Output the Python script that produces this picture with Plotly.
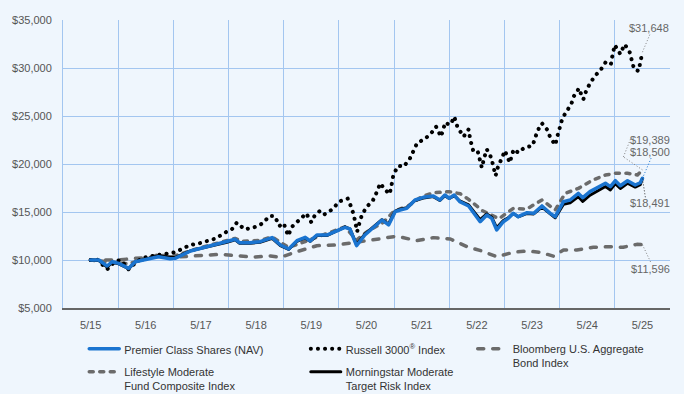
import plotly.graph_objects as go

# ---------------- data (years since 5/31/2015, growth of $10,000) ----------------
year_labels = ["5/15", "5/16", "5/17", "5/18", "5/19", "5/20", "5/21", "5/22", "5/23", "5/24", "5/25"]

premier_t = [0, 0.15, 0.30, 0.39, 0.51, 0.69, 0.81, 1.02, 1.23, 1.44, 1.53, 1.81, 2.23, 2.47, 2.62, 2.70, 2.89,
             3.07, 3.29, 3.44, 3.59, 3.74, 3.89, 3.98, 4.10, 4.28, 4.49, 4.61, 4.70, 4.82, 4.97, 5.19, 5.28, 5.40,
             5.52, 5.61, 5.73, 5.88, 6.03, 6.21, 6.33, 6.42, 6.50, 6.59, 6.69, 6.85, 6.97, 7.06, 7.18, 7.27, 7.36,
             7.48, 7.57, 7.66, 7.75, 7.91, 8.03, 8.18, 8.33, 8.42, 8.57, 8.69, 8.84, 8.92, 9.05, 9.33, 9.42, 9.51,
             9.60, 9.73, 9.87, 9.96, 10.0]
premier_v = [10000, 10000, 9370, 9820, 9650, 9130, 9820, 10070, 10340, 10130, 10170, 10940, 11560, 11910, 12160,
             11800, 11800, 11910, 12330, 11560, 11150, 12010, 12360, 11980, 12600, 12600, 13130, 13400, 13230,
             11490, 12600, 13650, 14170, 13650, 15040, 15210, 15380, 16250, 16530, 16670, 16250, 16770, 16430,
             16770, 16080, 15630, 14690, 13990, 14690, 14340, 13130, 13990, 14340, 14860, 14510, 14930, 14860,
             15630, 14860, 14510, 16080, 16250, 16940, 16490, 17120, 17990, 17640, 18260, 17740, 18260, 17810,
             18050, 18500]

morningstar_t = premier_t
morningstar_v = [10000, 9950, 9250, 9750, 9600, 9100, 9800, 10100, 10450, 10250, 10250, 10950, 11500, 11850, 12100,
                 11750, 11750, 11850, 12250, 11500, 11100, 11950, 12300, 11950, 12550, 12550, 13100, 13450, 13250,
                 11600, 12700, 13700, 14200, 13750, 15100, 15300, 15450, 16200, 16450, 16600, 16200, 16700, 16400,
                 16700, 16150, 15750, 14850, 14200, 14800, 14450, 13350, 14100, 14400, 14850, 14500, 14850, 14800,
                 15500, 14800, 14400, 15800, 15950, 16600, 16100, 16750, 17650, 17300, 17950, 17450, 18000, 17600,
                 17850, 18491]

lifestyle_t = [0, 0.3, 0.69, 1.0, 1.2, 1.5, 2.0, 2.62, 2.75, 3.07, 3.29, 3.59, 4.0, 4.3, 4.61, 4.82, 5.0, 5.3,
               5.5, 5.75, 6.0, 6.21, 6.5, 6.7, 6.85, 7.1, 7.4, 7.66, 7.9, 8.18, 8.42, 8.6, 8.84, 9.1, 9.33, 9.51,
               9.73, 9.91, 10.0]
lifestyle_v = [10000, 9800, 9600, 10150, 10500, 10400, 11300, 12250, 11950, 12050, 12400, 11300, 12150, 12750,
               13450, 12080, 12900, 13900, 15100, 15600, 16600, 17000, 17120, 16900, 16320, 15140, 14300, 15380,
               15300, 16250, 15210, 16940, 17460, 18330, 18850, 19030, 19030, 18850, 19389]

bloomberg_t = [0, 0.5, 0.75, 1.0, 1.25, 1.63, 1.93, 2.35, 2.71, 2.95, 3.26, 3.44, 3.74, 4.10, 4.46, 4.83, 5.19,
               5.49, 5.65, 5.91, 6.21, 6.52, 6.82, 7.09, 7.36, 7.66, 7.91, 8.15, 8.39, 8.57, 8.81, 9.11, 9.41,
               9.65, 9.90, 10.0]
bloomberg_v = [10000, 10000, 10150, 10250, 10350, 10340, 10420, 10590, 10420, 10300, 10420, 10280, 10870, 11490,
               11560, 11910, 12160, 12430, 12350, 12010, 12330, 12190, 11390, 10940, 10340, 10800, 10940, 10800,
               10400, 11040, 11040, 11320, 11390, 11320, 11630, 11596]

russell_t = [0.00, 0.12, 0.30, 0.45, 0.55, 0.69, 0.85, 1.00, 1.23, 1.53,
             1.68, 1.80, 1.97, 2.13, 2.28, 2.41, 2.56, 2.65, 2.79, 2.95,
             3.12, 3.24, 3.33, 3.38, 3.42, 3.50, 3.54, 3.58, 3.65, 3.79,
             3.91, 3.95, 4.00, 4.06, 4.16, 4.24, 4.39, 4.50, 4.66, 4.72,
             4.77, 4.80, 4.83, 4.87, 4.92, 5.01, 5.12, 5.19, 5.25, 5.33,
             5.42, 5.46, 5.49, 5.58, 5.67, 5.78, 5.85, 5.92, 6.05, 6.17,
             6.26, 6.31, 6.35, 6.39, 6.43, 6.50, 6.55, 6.59, 6.65, 6.76,
             6.85, 6.88, 6.93, 7.01, 7.05, 7.09, 7.13, 7.18, 7.26, 7.30,
             7.34, 7.38, 7.45, 7.51, 7.55, 7.60, 7.63, 7.67, 7.75, 7.86,
             8.01, 8.06, 8.10, 8.18, 8.27, 8.33, 8.42, 8.46, 8.50, 8.55,
             8.63, 8.71, 8.76, 8.85, 8.89, 8.93, 8.98, 9.05, 9.14, 9.25,
             9.34, 9.43, 9.46, 9.50, 9.55, 9.60, 9.63, 9.68, 9.77, 9.81,
             9.85, 9.93, 9.97, 10.00]
russell_v = [10000, 10050, 9030, 9900, 10000, 9030, 9900, 10300, 10520, 10800,
             11220, 11560, 11740, 12010, 12260, 12780, 13200, 13890, 13200, 13370,
             13820, 14580, 14580, 14060, 13540, 13820, 13200, 12530, 13470, 14240,
             14860, 14410, 13930, 14620, 15140, 14760, 15310, 16080, 16390, 15560,
             14690, 13820, 12950, 13820, 14760, 15560, 16250, 17120, 17990, 17360,
             16870, 17990, 18960, 19820, 19720, 20490, 21290, 22220, 22570, 23190,
             23890, 23370, 22850, 23610, 24330, 24060, 24410, 24930, 23820, 22850,
             23610, 22570, 21460, 21460, 20590, 19620, 20590, 21530, 20660, 19720,
             18780, 19650, 20520, 21390, 20760, 20140, 20870, 21530, 21180, 21700,
             21910, 22680, 23470, 24240, 23610, 22780, 21980, 22920, 23820, 24760,
             25520, 26220, 27080, 27880, 27260, 26740, 27600, 28400, 29170, 29860,
             30660, 30420, 31420, 32400, 31880, 31460, 31880, 32470, 31630, 30760,
             29860, 29690, 30660, 31648]

# ---------------- styling ----------------
BG = "#EFF6FD"
GRID = "#A3C6F0"
BLUE = "#1A74D0"
GRAY = "#6B6B6B"
FONT = "Liberation Sans, Arial, sans-serif"

fig = go.Figure()

def add(name, t, v, color, width, dash, legend, rank):
    fig.add_trace(go.Scatter(
        x=t, y=v, mode="lines", name=name,
        line=dict(color=color, width=width, dash=dash),
        legend=legend, legendrank=rank, legendgroup=name, hoverinfo="skip"))

add("Bloomberg U.S. Aggregate<br>Bond Index", bloomberg_t, bloomberg_v, GRAY, 3.5, "6px,9px", "legend3", 1)
add("Lifestyle Moderate<br>Fund Composite Index", lifestyle_t, lifestyle_v, GRAY, 3.5, "4px,6.5px", "legend", 2)
add("Russell 3000<sup>®</sup> Index", russell_t, russell_v, "#000000", 4, "0.1px,7px", "legend2", 1)
add("Morningstar Moderate<br>Target Risk Index", morningstar_t, morningstar_v, "#000000", 3, "solid", "legend2", 2)
add("Premier Class Shares (NAV)", premier_t, premier_v, BLUE, 3.5, "solid", "legend", 1)

# end-value labels and dotted leader lines (offsets in pixels from each series' last point)
labels = [
    (russell_t[-1], russell_v[-1], "$31,648", 7, 24, 8, 19, "#808080"),
    (lifestyle_t[-1], lifestyle_v[-1], "$19,389", 8, 30, None, None, "#808080"),
    (premier_t[-1], premier_v[-1], "$18,500", 8, 26, 9, 21, BLUE),
    (morningstar_t[-1], morningstar_v[-1], "$18,491", 8, -25, 3, -19, "#333333"),
    (bloomberg_t[-1], bloomberg_v[-1], "$11,596", 8, -24, 9, -19, "#808080"),
]
for x, y, txt, xs, ys, lx, ly, lc in labels:
    fig.add_annotation(x=x, y=y, xref="x", yref="y", text=txt, showarrow=False,
                       xshift=xs, yshift=ys, font=dict(size=11, color="#666666", family=FONT))
    if lx is not None:
        fig.add_shape(type="line", xref="x", yref="y", xsizemode="pixel", ysizemode="pixel",
                      xanchor=x, yanchor=y, x0=0, y0=0, x1=lx, y1=ly,
                      line=dict(color=lc, width=1, dash="1px,2px"))
# bent leader for the Lifestyle label
lx_end, ly_end = lifestyle_t[-1], lifestyle_v[-1]
for (a, b, c, d) in [(0, 0, -19, 13), (-19, 13, -11, 33)]:
    fig.add_shape(type="line", xref="x", yref="y", xsizemode="pixel", ysizemode="pixel",
                  xanchor=lx_end, yanchor=ly_end, x0=a, y0=b, x1=c, y1=d,
                  line=dict(color="#808080", width=1, dash="1px,2px"))

legend_common = dict(xanchor="left", yanchor="top", bgcolor="rgba(0,0,0,0)", borderwidth=0,
                     font=dict(size=11, color="#333333", family=FONT), valign="top",
                     tracegroupgap=4, orientation="v")

fig.update_layout(
    width=684, height=394,
    margin=dict(l=63, r=14, t=20, b=86, autoexpand=False),
    paper_bgcolor=BG, plot_bgcolor=BG,
    font=dict(family=FONT, size=11, color="#555555"),
    xaxis=dict(range=[-0.5, 10.5], tickmode="array", tickvals=list(range(len(year_labels))),
               ticktext=year_labels, showgrid=False, zeroline=False,
               ticks="outside", ticklen=6, tickcolor="rgba(0,0,0,0)",
               showline=True, linecolor="#666666", linewidth=2,
               minor=dict(tickvals=[i + 0.5 for i in range(len(year_labels))], showgrid=True,
                          gridcolor=GRID, gridwidth=1, ticks="")),
    yaxis=dict(range=[5000, 35000], dtick=5000, tickformat="$,", showgrid=True, gridcolor=GRID,
               gridwidth=1, zeroline=False, showline=True, linecolor=GRID, linewidth=1,
               ticks="outside", ticklen=8, tickcolor="rgba(0,0,0,0)"),
    legend=dict(x=0.035, y=-0.094, **legend_common),
    legend2=dict(x=0.40, y=-0.094, **legend_common),
    legend3=dict(x=0.675, y=-0.094, **legend_common),
    showlegend=True,
)

post = ("document.body.style.margin='0';document.body.style.overflow='hidden';"
        "var gd=document.getElementById('{plot_id}');"
        "gd.querySelectorAll('path.js-line').forEach(function(p){"
        "p.style.strokeLinecap='round';p.style.strokeLinejoin='round';});")

fig.write_html("out.html", post_script=post, config={"displayModeBar": False})
